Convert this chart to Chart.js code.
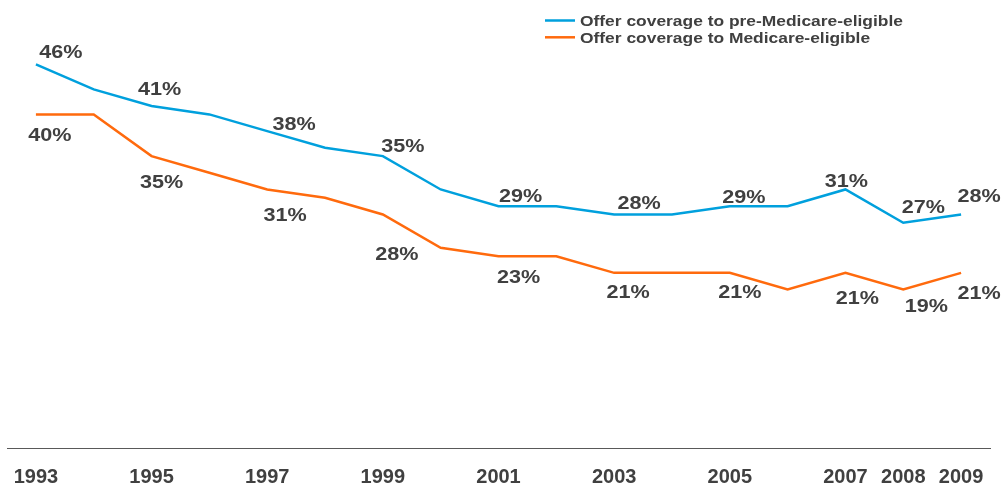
<!DOCTYPE html>
<html>
<head>
<meta charset="utf-8">
<script src="https://cdn.jsdelivr.net/npm/chart.js@4/dist/chart.umd.min.js"></script>
<style>
  html, body { margin: 0; padding: 0; background: #ffffff; }
  #wrap { width: 1005px; height: 489px; position: relative; }
</style>
</head>
<body>
<div id="wrap"><canvas id="chart"></canvas></div>
<script>
// Share of employers offering retiree health coverage, by year
const years = [1993, 1994, 1995, 1996, 1997, 1998, 1999, 2000, 2001,
               2002, 2003, 2004, 2005, 2006, 2007, 2008, 2009];
const preMedicare = [46, 43, 41, 40, 38, 36, 35, 31, 29,
                     29, 28, 28, 29, 29, 31, 27, 28];
const medicare = [40, 40, 35, 33, 31, 30, 28, 24, 23,
                  23, 21, 21, 21, 19, 21, 19, 21];
const tickYears = [1993, 1995, 1997, 1999, 2001, 2003, 2005, 2007, 2008, 2009];
const labelYears = [1993, 1995, 1997, 1999, 2001, 2003, 2005, 2007, 2008, 2009];
const seriesNames = ['Offer coverage to pre-Medicare-eligible',
                     'Offer coverage to Medicare-eligible'];

const BLUE = '#00a0dd';
const ORANGE = '#ff6a0d';
const TEXT = '#404040';

// Where each value label sits relative to its point (dx, dy to the label centre)
const labelOffsets = [
  { 1993: [25, -14], 1995: [8, -19], 1997: [27, -9], 1999: [20, -12], 2001: [22, -12],
    2003: [25, -13], 2005: [14, -11], 2007: [1, -10], 2008: [20, -17], 2009: [18, -20] },
  { 1993: [14, 19], 1995: [10, 24], 1997: [18, 24], 1999: [14, 38], 2001: [20, 19],
    2003: [14, 18], 2005: [10, 18], 2007: [12, 24], 2008: [23, 15], 2009: [18, 19] }
];

// Draw text stretched horizontally (wide bold face); y is the visual centre of the caps
function wideText(ctx, text, x, y, font, align, stretch, nudge) {
  ctx.save();
  ctx.font = font;
  ctx.fillStyle = TEXT;
  ctx.textBaseline = 'middle';
  ctx.textAlign = align;
  ctx.translate(x, y + nudge);
  ctx.scale(stretch, 1);
  ctx.fillText(text, 0, 0);
  ctx.restore();
}

const valueLabels = {
  id: 'valueLabels',
  afterDatasetsDraw(chart) {
    const ctx = chart.ctx;
    chart.data.datasets.forEach((ds, di) => {
      const meta = chart.getDatasetMeta(di);
      ds.data.forEach((pt, i) => {
        if (!labelYears.includes(pt.x)) return;
        const el = meta.data[i];
        const off = labelOffsets[di][pt.x] || [0, 0];
        wideText(ctx, pt.y + '%', el.x + off[0], el.y + off[1],
                 'bold 18px "Liberation Sans", Arial, sans-serif', 'center', 1.2, 2.5);
      });
    });
  }
};

const lineLegend = {
  id: 'lineLegend',
  afterDraw(chart) {
    const ctx = chart.ctx;
    const x0 = 545, x1 = 575, tx = 580;
    const rows = [20.5, 37.3];
    chart.data.datasets.forEach((ds, di) => {
      const y = rows[di];
      ctx.save();
      ctx.strokeStyle = ds.borderColor;
      ctx.lineWidth = 2.5;
      ctx.beginPath();
      ctx.moveTo(x0, y);
      ctx.lineTo(x1, y);
      ctx.stroke();
      ctx.restore();
      wideText(ctx, ds.label, tx, y, 'bold 14.5px "Liberation Sans", Arial, sans-serif', 'left', 1.2, 1.5);
    });
  }
};

new Chart(document.getElementById('chart'), {
  type: 'line',
  data: {
    datasets: [
      {
        label: seriesNames[0],
        data: years.map((y, i) => ({ x: y, y: preMedicare[i] })),
        borderColor: BLUE,
        backgroundColor: BLUE,
        borderWidth: 2.5,
        pointRadius: 0,
        tension: 0
      },
      {
        label: seriesNames[1],
        data: years.map((y, i) => ({ x: y, y: medicare[i] })),
        borderColor: ORANGE,
        backgroundColor: ORANGE,
        borderWidth: 2.5,
        pointRadius: 0,
        tension: 0
      }
    ]
  },
  options: {
    responsive: true,
    maintainAspectRatio: false,
    animation: false,
    layout: { padding: { left: 7, right: 15, top: 31, bottom: 0 } },
    plugins: {
      legend: { display: false },
      tooltip: { enabled: false }
    },
    scales: {
      x: {
        type: 'linear',
        min: 1992.5,
        max: 2009.5,
        afterBuildTicks(scale) {
          scale.ticks = tickYears.map(v => ({ value: v }));
        },
        afterFit(scale) {
          scale.height = 41;
          scale.paddingLeft = 0;
          scale.paddingRight = 0;
        },
        grid: { display: false, drawTicks: false },
        border: { display: true, color: '#595959', width: 1 },
        ticks: {
          autoSkip: false,
          maxRotation: 0,
          padding: 17,
          color: TEXT,
          font: { family: '"Liberation Sans", Arial, sans-serif', size: 20, weight: 'bold' },
          callback: v => String(v)
        }
      },
      y: {
        display: false,
        min: 0,
        max: 50
      }
    }
  },
  plugins: [valueLabels, lineLegend]
});
</script>
</body>
</html>
